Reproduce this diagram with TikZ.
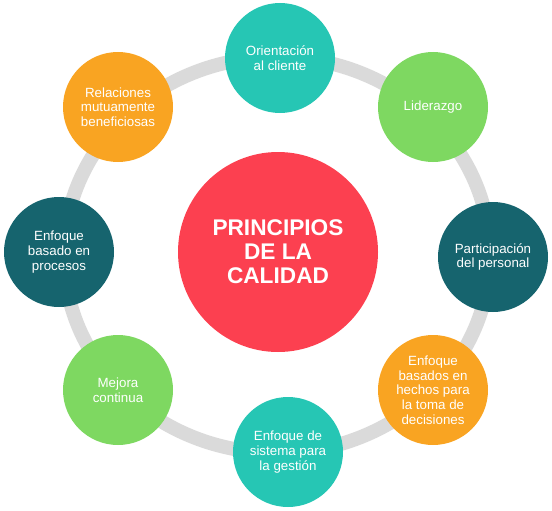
\documentclass[tikz,border=0pt]{standalone}
\usepackage{fontspec}
\setmainfont{Liberation Sans}
\usepackage{tikz}

\definecolor{Turquesa}{HTML}{26C6B4}
\definecolor{Verde}{HTML}{7ED861}
\definecolor{Petroleo}{HTML}{16646E}
\definecolor{Naranja}{HTML}{F9A422}
\definecolor{Rojo}{HTML}{FC4050}
\definecolor{Anillo}{HTML}{DADADA}

\begin{document}
\begin{tikzpicture}[x=0.75pt, y=-0.75pt,
    principio/.style={circle, minimum size=82.5pt, inner sep=0pt, align=center,
        text=white, font=\fontsize{10}{11}\selectfont}]

    \useasboundingbox (0,0) rectangle (552,510);

    %Ring
    \draw[color=Anillo, line width=10.5pt] (277,255) ellipse [x radius=159.75pt, y radius=148.5pt];

    %Center
    \node[circle, fill=Rojo, minimum size=150pt, inner sep=0pt, align=center, text=white,
        font=\fontsize{17}{18}\selectfont\bfseries] (centro) at (278,252) {PRINCIPIOS\\DE LA\\CALIDAD};

    %Principles
    \node[principio, fill=Turquesa] (cliente) at (280,58) {Orientación\\al cliente};
    \node[principio, fill=Verde] (liderazgo) at (433,107) {Liderazgo};
    \node[principio, fill=Petroleo] (personal) at (493,257) {Participación\\del personal};
    \node[principio, fill=Naranja] (hechos) at (433,390) {Enfoque\\basados en\\hechos para\\la toma de\\decisiones};
    \node[principio, fill=Turquesa] (sistema) at (288,452) {Enfoque de\\sistema para\\la gestión};
    \node[principio, fill=Verde] (mejora) at (118,390) {Mejora\\continua};
    \node[principio, fill=Petroleo] (procesos) at (59,252) {Enfoque\\basado en\\procesos};
    \node[principio, fill=Naranja] (relaciones) at (118,107) {Relaciones\\mutuamente\\beneficiosas};

\end{tikzpicture}
\end{document}
